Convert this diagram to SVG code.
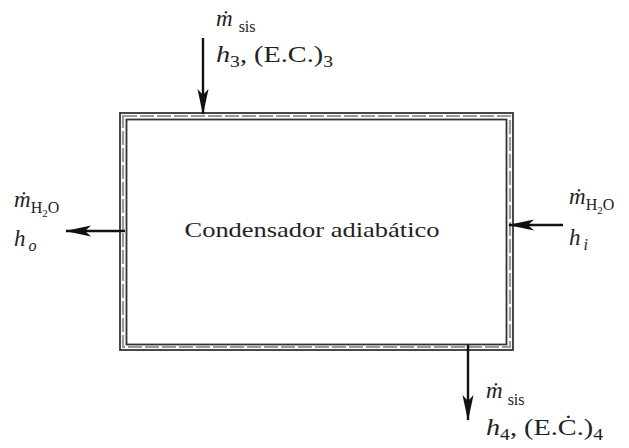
<svg xmlns="http://www.w3.org/2000/svg" width="629" height="448" viewBox="0 0 629 448">
<style>
  text { font-family: "Liberation Serif", "DejaVu Serif", serif; fill: #222; }
  .lbl { font-size: 23px; }
  .sub { font-size: 16px; }
  .it { font-style: italic; }
  .wall { fill: none; stroke: #333; stroke-width: 1.8; }
  .mid { fill: none; stroke: #9a9a9a; stroke-width: 2.2; stroke-dasharray: 14 3; }
  .flow { stroke: #111; stroke-width: 2.4; fill: none; marker-end: url(#ah); }
</style>
<defs>
  <marker id="ah" markerWidth="28" markerHeight="14" refX="25" refY="7" orient="auto" markerUnits="userSpaceOnUse">
    <path d="M0,1.5 L26,7 L0,12.5 L6,7 Z" fill="#111"/>
  </marker>
</defs>
<rect x="0" y="0" width="629" height="448" fill="#fff"/>
<g id="volumen-control">
  <rect class="mid" x="123" y="116" width="387" height="231"/>
  <rect class="wall" x="120" y="113" width="393" height="237"/>
  <rect class="wall" x="126.5" y="119.5" width="380" height="225"/>
  <text x="312" y="237" text-anchor="middle" font-size="22" textLength="255" lengthAdjust="spacingAndGlyphs">Condensador adiabático</text>
</g>
<g id="conectores">
  <line class="flow" x1="203" y1="38" x2="203" y2="114"/>
  <line class="flow" x1="125" y1="231" x2="66" y2="231"/>
  <line class="flow" x1="563" y1="225" x2="509" y2="225"/>
  <line class="flow" x1="468" y1="345" x2="468" y2="420"/>
</g>
<g id="entrada-3">
  <text class="lbl" x="216" y="26"><tspan class="it">ṁ</tspan><tspan class="sub" dx="6" dy="6">sis</tspan></text>
  <text class="lbl" x="216" y="62" textLength="117" lengthAdjust="spacingAndGlyphs"><tspan class="it">h</tspan><tspan class="sub" dy="5">3</tspan><tspan dy="-5">, (E.C.)</tspan><tspan class="sub" dy="5">3</tspan></text>
</g>
<g id="salida-agua">
  <text class="lbl" x="14" y="207"><tspan class="it">ṁ</tspan><tspan class="sub" dy="6">H</tspan><tspan font-size="11" dy="4">2</tspan><tspan class="sub" dy="-4">O</tspan></text>
  <text class="lbl" x="14" y="246"><tspan class="it">h</tspan><tspan class="sub it" dx="3" dy="5">o</tspan></text>
</g>
<g id="entrada-agua">
  <text class="lbl" x="569" y="204"><tspan class="it">ṁ</tspan><tspan class="sub" dy="6">H</tspan><tspan font-size="11" dy="4">2</tspan><tspan class="sub" dy="-4">O</tspan></text>
  <text class="lbl" x="569" y="245"><tspan class="it">h</tspan><tspan class="sub it" dx="3" dy="5">i</tspan></text>
</g>
<g id="salida-4">
  <text class="lbl" x="486" y="398"><tspan class="it">ṁ</tspan><tspan class="sub" dx="5" dy="7">sis</tspan></text>
  <text class="lbl" x="486" y="435" textLength="117" lengthAdjust="spacingAndGlyphs"><tspan class="it">h</tspan><tspan class="sub" dy="5">4</tspan><tspan dy="-5">, (E.Ċ.)</tspan><tspan class="sub" dy="5">4</tspan></text>
</g>
</svg>
